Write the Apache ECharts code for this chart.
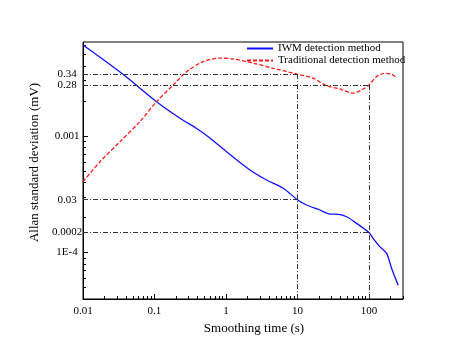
<!DOCTYPE html>
<html>
<head>
<meta charset="utf-8">
<script src="https://cdn.jsdelivr.net/npm/echarts@6/dist/echarts.min.js"></script>
<style>
    html, body { margin: 0; padding: 0; background: #fff; }
    #chart { width: 468px; height: 359px; }
</style>
</head>
<body>
<div id="chart"></div>
<script>
// smoothing time (s) and allan deviation
const iwmTime = [0.01, 0.0348, 0.107, 0.228, 0.389, 0.565, 1.02, 2.17, 3.71, 6.33, 10, 13.4, 20.6, 28.5, 37.3, 48.8, 67.3, 100, 115, 143, 177, 208, 257];
const iwmDev = [6.04e-3, 3.45e-3, 1.97e-3, 1.42e-3, 1.16e-3, 9.86e-4, 7.33e-4, 5.11e-4, 4.19e-4, 3.56e-4, 2.84e-4, 2.56e-4, 2.32e-4, 2.14e-4, 2.13e-4, 2.03e-4, 1.78e-4, 1.49e-4, 1.32e-4, 1.12e-4, 9.85e-5, 7.31e-5, 5.26e-5];

const tradTime = [0.01, 0.0173, 0.0329, 0.0626, 0.107, 0.183, 0.282, 0.482, 0.824, 1.26, 2.41, 4.59, 10, 16.6, 25.6, 39.3, 60.3, 79, 100, 128, 168, 208, 244];
const tradDev = [4.06e-4, 6.01e-4, 8.93e-4, 1.33e-3, 1.97e-3, 2.74e-3, 3.56e-3, 4.35e-3, 4.65e-3, 4.58e-3, 4.21e-3, 3.81e-3, 3.39e-3, 3.13e-3, 2.70e-3, 2.53e-3, 2.33e-3, 2.48e-3, 2.73e-3, 3.23e-3, 3.45e-3, 3.39e-3, 3.16e-3];

// tick labels
const xTickVals = [0.01, 0.1, 1, 10, 100];
const xTickText = ['0.01', '0.1', '1', '10', '100'];
const yTickVals = [3.39e-3, 2.73e-3, 1e-3, 2.84e-4, 1.49e-4, 1e-4];
const yTickText = ['0.34', '0.28', '0.001', '0.03', '0.0002', '1E-4'];
const yMajor = [1e-3, 1e-4];

// guide lines: [time, deviation] crossings
const guideMarks = [[10, 3.39e-3], [100, 2.73e-3], [10, 2.84e-4], [100, 1.49e-4]];

const xMin = 0.01, xMax = 300;
const yMin = 4e-5, yMax = 6.4e-3;

function minorTicks(lo, hi, d0, d1) {
    let out = [];
    for (let d = d0; d <= d1; d++) {
        for (let k = 2; k <= 9; k++) {
            let v = k * Math.pow(10, d);
            if (v >= lo && v <= hi) out.push(v);
        }
    }
    return out;
}

function lookup(vals, texts, v) {
    let best = 0, bd = Infinity;
    vals.forEach(function (t, i) {
        let d = Math.abs(Math.log10(t) - Math.log10(v));
        if (d < bd) { bd = d; best = i; }
    });
    return texts[best];
}

const serif = 'Liberation Serif';
const dashDot = [5, 2, 1, 2];

let guideData = [];
guideMarks.forEach(function (m) {
    guideData.push([{ coord: [xMin, m[1]] }, { coord: [m[0], m[1]] }]);
});
guideData.push([{ coord: [10, 3.39e-3] }, { coord: [10, yMin] }]);
guideData.push([{ coord: [100, 2.73e-3] }, { coord: [100, yMin] }]);

let myChart = echarts.init(document.getElementById('chart'));
myChart.setOption({
    animation: false,
    backgroundColor: '#fff',
    grid: {
        left: 83,
        right: 65,
        top: 42,
        bottom: 60,
        show: true,
        borderColor: '#000',
        borderWidth: 1,
        backgroundColor: 'transparent'
    },
    legend: {
        orient: 'vertical',
        left: 241,
        top: 38,
        itemWidth: 26,
        itemHeight: 10,
        itemGap: 1,
        itemStyle: { opacity: 0 },
        textStyle: { fontFamily: serif, fontSize: 11, color: '#000' },
        data: ['IWM detection method', 'Traditional detection method']
    },
    xAxis: [{
        type: 'log',
        min: xMin,
        max: xMax,
        name: 'Smoothing time (s)',
        nameLocation: 'middle',
        nameGap: 18,
        nameTextStyle: { fontFamily: serif, fontSize: 13, color: '#000', padding: [0, 0, 0, 22] },
        axisLine: { lineStyle: { color: '#000', width: 1 } },
        axisTick: { inside: true, length: 5, customValues: xTickVals, lineStyle: { color: '#000' } },
        axisLabel: {
            customValues: xTickVals,
            margin: 7,
            fontFamily: serif,
            fontSize: 11,
            color: '#000',
            formatter: function (v) { return lookup(xTickVals, xTickText, v); }
        },
        splitLine: { show: false }
    }, {
        type: 'log',
        min: xMin,
        max: xMax,
        position: 'bottom',
        axisLine: { show: false },
        axisTick: { inside: true, length: 3, customValues: minorTicks(xMin, xMax, -2, 2), lineStyle: { color: '#000' } },
        axisLabel: { show: false },
        splitLine: { show: false }
    }],
    yAxis: [{
        type: 'log',
        min: yMin,
        max: yMax,
        name: 'Allan standard deviation (mV)',
        nameLocation: 'middle',
        nameGap: 30,
        nameTextStyle: { fontFamily: serif, fontSize: 13, color: '#000', padding: [0, 0, 0, 16] },
        axisLine: { lineStyle: { color: '#000', width: 1 } },
        axisTick: { inside: true, length: 5, customValues: yMajor, lineStyle: { color: '#000' } },
        axisLabel: {
            customValues: yTickVals,
            align: 'center',
            margin: 16,
            fontFamily: serif,
            fontSize: 11,
            color: '#000',
            formatter: function (v) { return lookup(yTickVals, yTickText, v); }
        },
        splitLine: { show: false }
    }, {
        type: 'log',
        min: yMin,
        max: yMax,
        position: 'left',
        axisLine: { show: false },
        axisTick: { inside: true, length: 3, customValues: minorTicks(yMin, yMax, -5, -3), lineStyle: { color: '#000' } },
        axisLabel: { show: false },
        splitLine: { show: false }
    }],
    series: [{
        name: 'IWM detection method',
        type: 'line',
        xAxisIndex: 0,
        yAxisIndex: 0,
        symbol: 'none',
        smooth: 0.3,
        color: '#1010ff',
        lineStyle: { width: 1.3, color: '#1010ff' },
        data: iwmTime.map(function (t, i) { return [t, iwmDev[i]]; }),
        markLine: {
            silent: true,
            symbol: 'none',
            label: { show: false },
            lineStyle: { color: '#333', width: 1, type: dashDot },
            data: guideData
        },
        z: 3
    }, {
        name: 'Traditional detection method',
        type: 'line',
        xAxisIndex: 0,
        yAxisIndex: 0,
        symbol: 'none',
        smooth: 0.3,
        color: '#ff1a1a',
        lineStyle: { width: 1.3, color: '#ff1a1a', type: [4, 2] },
        data: tradTime.map(function (t, i) { return [t, tradDev[i]]; }),
        z: 3
    }]
});
</script>
</body>
</html>
